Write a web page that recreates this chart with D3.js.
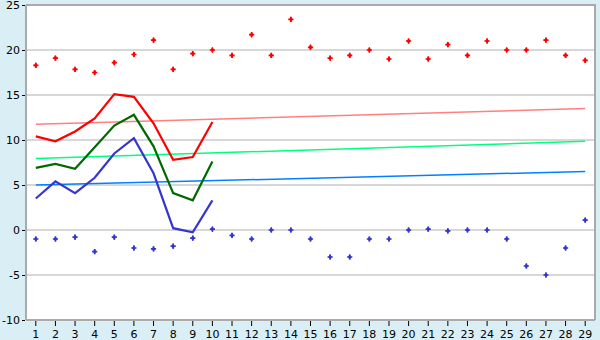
<!DOCTYPE html>
<html>
<head>
<meta charset="utf-8">
<script src="https://cdn.jsdelivr.net/npm/d3@7"></script>
<style>
  body { margin: 0; background: #daeff5; }
  svg text { font-family: "DejaVu Sans", Verdana, sans-serif; font-size: 11px; fill: #000; }
</style>
</head>
<body>
<div class="box"></div>
<script>
// data
const days = d3.range(1, 30);
const maxDots = [18.3, 19.1, 17.85, 17.5, 18.6, 19.5, 21.1, 17.85, 19.6, 20.0,
                 19.4, 21.7, 19.4, 23.4, 20.3, 19.1, 19.4, 20.0, 19.0, 21.0,
                 19.0, 20.6, 19.4, 21.0, 20.0, 20.0, 21.1, 19.4, 18.85];
const minDots = [-1.0, -1.0, -0.8, -2.4, -0.8, -2.0, -2.1, -1.8, -0.9, 0.1,
                 -0.6, -1.0, 0.0, 0.0, -1.0, -3.0, -3.0, -1.0, -1.0, 0.0,
                 0.1, -0.1, 0.0, 0.0, -1.0, -4.0, -5.0, -2.0, 1.1];
const redLine   = [10.4, 9.85, 10.95, 12.4, 15.1, 14.8, 11.85, 7.8, 8.1, 12.0];
const greenLine = [6.9, 7.35, 6.8, 9.2, 11.6, 12.8, 9.3, 4.1, 3.3, 7.6];
const blueLine  = [3.5, 5.4, 4.1, 5.8, 8.5, 10.2, 6.3, 0.2, -0.25, 3.3];
const redTrend   = [11.75, 13.5];
const greenTrend = [7.95, 9.85];
const blueTrend  = [5.0, 6.5];
const yTicks = [-10, -5, 0, 5, 10, 15, 20, 25];

const mLeft = 26, mRight = 595, mTop = 5, mBottom = 320;

const svg = d3.select('.box').append('svg')
              .attr('width', 600)
              .attr('height', 340)
              .style('display', 'block');

svg.append('rect')
   .attr('x', mLeft).attr('y', mTop)
   .attr('width', mRight - mLeft).attr('height', mBottom - mTop)
   .attr('fill', '#fff');

const x = d3.scaleBand().domain(days).range([mLeft, mRight]);
const cx = d => x(d) + x.bandwidth() / 2;
const y = d3.scaleLinear().domain([-10, 25]).range([mBottom, mTop]);

// grid
svg.append('g').selectAll('line')
   .data(yTicks)
   .join('line')
   .attr('x1', mLeft).attr('x2', mRight)
   .attr('y1', d => y(d)).attr('y2', d => y(d))
   .attr('stroke', '#b0b0b0');

// frame
svg.append('line').attr('x1', mLeft).attr('x2', mLeft).attr('y1', mTop).attr('y2', mBottom)
   .attr('stroke', '#aaa').attr('stroke-width', 2);
svg.append('line').attr('x1', mRight).attr('x2', mRight).attr('y1', mTop - 1).attr('y2', mBottom)
   .attr('stroke', '#aaa').attr('stroke-width', 2);
svg.append('line').attr('x1', mLeft).attr('x2', mRight).attr('y1', mBottom).attr('y2', mBottom)
   .attr('stroke', '#aaa').attr('stroke-width', 2);
svg.append('line').attr('x1', mLeft).attr('x2', mRight).attr('y1', mTop).attr('y2', mTop)
   .attr('stroke', '#aaa').attr('stroke-width', 2);

// axes
const yAxis = svg.append('g')
   .attr('transform', `translate(${mLeft - 1},0)`)
   .call(d3.axisLeft(y).tickValues(yTicks).tickSize(3).tickPadding(2)
           .tickFormat(d => String(d)));
yAxis.select('.domain').remove();

const xAxis = svg.append('g')
   .attr('transform', `translate(0,${mBottom + 1})`)
   .call(d3.axisBottom(x).tickSize(5).tickPadding(4));
xAxis.select('.domain').remove();

// trend lines
const trends = [[redTrend, '#ff8080'], [greenTrend, '#00ff80'], [blueTrend, '#0080ff']];
svg.append('g').selectAll('line')
   .data(trends)
   .join('line')
   .attr('x1', cx(1)).attr('x2', cx(29))
   .attr('y1', d => y(d[0][0])).attr('y2', d => y(d[0][1]))
   .attr('stroke', d => d[1])
   .attr('stroke-width', 1.5);

// lines
const line = d3.line().x((d, i) => cx(days[i])).y(d => y(d));
const series = [[redLine, '#ff0000'], [greenLine, '#006a00'], [blueLine, '#3636cc']];
svg.append('g').selectAll('path')
   .data(series)
   .join('path')
   .attr('d', d => line(d[0]))
   .attr('fill', 'none')
   .attr('stroke', d => d[1])
   .attr('stroke-width', 2.2);

// dots
const cross = d3.symbol().type(d3.symbolCross).size(15);
const diamond = d3.symbol().type(d3.symbolDiamond).size(10);
[[maxDots, '#ff0000'], [minDots, '#3636cc']].forEach(([vals, col]) => {
  const g = svg.append('g');
  g.selectAll('path.c')
   .data(vals)
   .join('path')
   .attr('class', 'c')
   .attr('d', cross)
   .attr('transform', (d, i) => `translate(${cx(days[i])},${y(d)})`)
   .attr('fill', col);
  g.selectAll('path.d')
   .data(vals)
   .join('path')
   .attr('class', 'd')
   .attr('d', diamond)
   .attr('transform', (d, i) => `translate(${cx(days[i])},${y(d)})`)
   .attr('fill', col);
});
</script>
</body>
</html>
